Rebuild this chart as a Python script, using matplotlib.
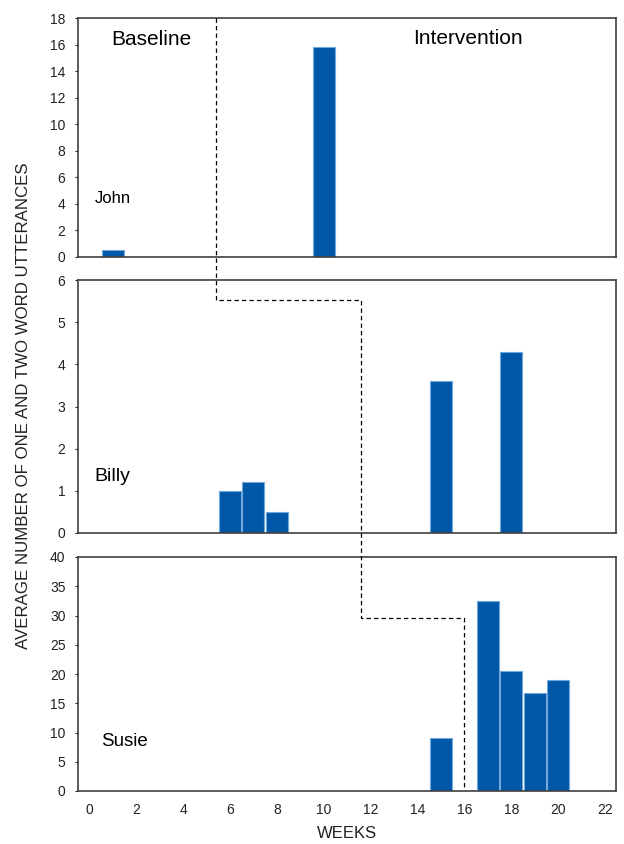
import matplotlib
matplotlib.use("Agg")
import matplotlib.pyplot as plt
from matplotlib.lines import Line2D

plt.rcParams['font.family'] = ['Liberation Sans', 'DejaVu Sans']

# ---- data ----
john_weeks = [1, 10]
john_values = [0.5, 15.8]
billy_weeks = [6, 7, 8, 15, 18]
billy_values = [1.0, 1.2, 0.5, 3.6, 4.3]
susie_weeks = [15, 17, 18, 19, 20]
susie_values = [9.1, 32.5, 20.5, 16.7, 19.0]

names = ["John", "Billy", "Susie"]
y_max = [18, 6, 40]
y_step = [2, 1, 5]
x_ticks = list(range(0, 23, 2))

# phase-change line: (panel index, week, value)
phase_panel = [0, 1, 1, 2, 2, 2]
phase_x = [5.4, 5.4, 11.6, 11.6, 16.0, 16.0]
phase_y = [18, 5.53, 5.53, 29.6, 29.6, 0.4]

W, H = 624, 844
fig = plt.figure(figsize=(W / 100, H / 100), dpi=100)

def px_axes(l, t, r, b):
    return fig.add_axes([l / W, 1 - b / H, (r - l) / W, (b - t) / H])

boxes = [(78, 18, 616, 257), (78, 280, 616, 533), (78, 557, 616, 791)]
axes = [px_axes(*bx) for bx in boxes]

bar_color = '#0057A8'
edge_color = '#6FA8DC'
spine_color = '#404040'

series = [(john_weeks, john_values), (billy_weeks, billy_values), (susie_weeks, susie_values)]
for i, ax in enumerate(axes):
    wk, vals = series[i]
    ax.bar(wk, vals, width=0.94, color=bar_color, edgecolor=edge_color, linewidth=0.8, zorder=2)
    ax.set_xlim(-0.48, 22.47)
    ax.set_ylim(0, y_max[i])
    ax.set_yticks(list(range(0, y_max[i] + 1, y_step[i])))
    ax.set_xticks(x_ticks)
    for s in ax.spines.values():
        s.set_color(spine_color)
        s.set_linewidth(1.2)
    ax.tick_params(axis='y', length=2, pad=7, labelsize=10, colors='#222222')
    ax.tick_params(axis='x', length=0, pad=9, labelsize=10, colors='#222222')
    if i < 2:
        ax.tick_params(axis='x', labelbottom=False)

# panel labels
axes[0].text(1.02, 4.4, names[0], fontsize=12, ha='center', va='center')
axes[1].text(0.2, 1.34, names[1], fontsize=14, ha='left', va='center')
axes[2].text(0.5, 8.5, names[2], fontsize=13.5, ha='left', va='center')

axes[0].text(2.66, 16.4, "Baseline", fontsize=15, ha='center', va='center')
axes[0].text(16.16, 16.45, "Intervention", fontsize=15, ha='center', va='center')

fig.text(24 / W, 1 - 406 / H, "AVERAGE NUMBER OF ONE AND TWO WORD UTTERANCES",
         rotation=90, ha='center', va='center', fontsize=12.2, color='#222222')
fig.text(347 / W, 1 - 833 / H, "WEEKS", ha='center', va='center', fontsize=12, color='#222222')

# phase-change dashed line across panels
inv = fig.transFigure.inverted()
pts = [inv.transform(axes[p].transData.transform((x, y)))
       for p, x, y in zip(phase_panel, phase_x, phase_y)]
line = Line2D([p[0] for p in pts], [p[1] for p in pts], transform=fig.transFigure,
              color='black', linewidth=0.9, linestyle=(0, (3.5, 2.5)), zorder=5)
fig.add_artist(line)

fig.savefig("out.png", dpi=100)
